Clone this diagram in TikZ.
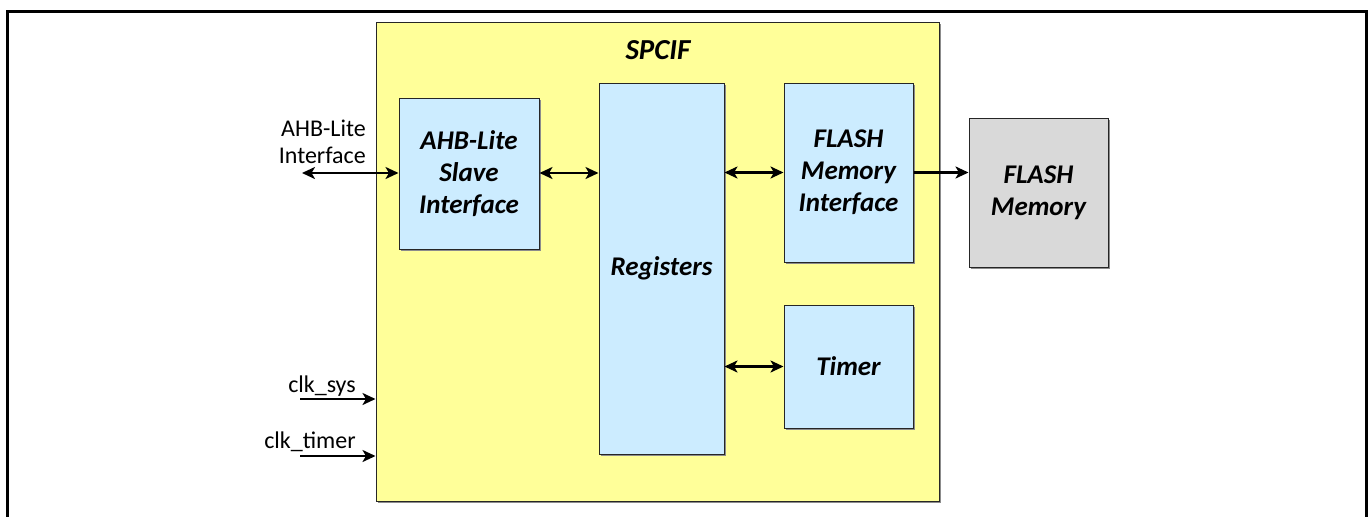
\documentclass[tikz,border=0pt]{standalone}
\usepackage{fontspec}
\setmainfont{Carlito}
\usetikzlibrary{arrows.meta,shadows}

\definecolor{spcifyellow}{RGB}{255,255,153}
\definecolor{blockblue}{RGB}{204,236,255}
\definecolor{memgray}{RGB}{217,217,217}

\tikzset{
  block/.style={draw=black!85, line width=1pt, inner sep=0pt, align=center,
    font=\bfseries\itshape\fontsize{27}{32}\selectfont,
    drop shadow={shadow xshift=1.5pt, shadow yshift=-1.5pt, fill=black!45, opacity=1}},
  sub/.style={block, fill=blockblue},
  tip/.tip={Stealth[length=13pt,width=12pt,inset=3.5pt]},
  sig/.style={line width=2.4pt, -tip},
  bus/.style={line width=2.4pt, tip-tip},
  pinlabel/.style={font=\fontsize{24}{27}\selectfont, inner sep=0pt}
}

\begin{document}
\begin{tikzpicture}[x=1pt,y=-1pt]
\useasboundingbox (0,0) rectangle (1369,517);

% page frame
\draw[line width=3pt] (7,520) -- (7,11) -- (1366,11) -- (1366,520);

% SPCIF container
\node[block, fill=spcifyellow, minimum width=563pt, minimum height=479pt] (spcif) at (657.5,261.5) {};
\node[font=\bfseries\itshape\fontsize{29}{32}\selectfont, inner sep=0pt] (title) at (658,50) {SPCIF};

% internal blocks
\node[sub, minimum width=140pt, minimum height=151pt] (ahb) at (469,173.5) {AHB-Lite\\Slave\\Interface};
\node[sub, minimum width=125pt, minimum height=371pt] (reg) at (661.5,268.5) {Registers};
\node[sub, minimum width=129pt, minimum height=179pt] (fif) at (848.5,172.5) {FLASH\\Memory\\Interface};
\node[sub, minimum width=129pt, minimum height=123pt] (tmr) at (848.5,366.5) {Timer};

% external memory
\node[block, fill=memgray, minimum width=139pt, minimum height=149pt] (mem) at (1038.5,192.5) {FLASH\\Memory};

% external pins
\node[pinlabel, align=right, anchor=south east] (ahblbl) at (366,164) {AHB-Lite\\Interface};
\coordinate (ahbext) at (302,173);
\coordinate (clksysin) at (300,399);
\coordinate (clktmrin) at (300,456);
\node[pinlabel, anchor=base] (clksyslbl) at (322,392) {clk\_sys};
\node[pinlabel, anchor=base] (clktmrlbl) at (310,448) {clk\_timer};

% connections
\draw[bus] (ahbext) -- (ahbext -| ahb.west);
\draw[bus] (ahb.east |- ahbext) -- (reg.west |- ahbext);
\draw[bus] (reg.east |- fif.west) -- (fif.west);
\draw[bus] (reg.east |- tmr.west) -- (tmr.west);
\draw[sig] (fif.east) -- (mem.west |- fif.east);
\draw[sig] (clksysin) -- (clksysin -| spcif.west);
\draw[sig] (clktmrin) -- (clktmrin -| spcif.west);
\end{tikzpicture}
\end{document}
